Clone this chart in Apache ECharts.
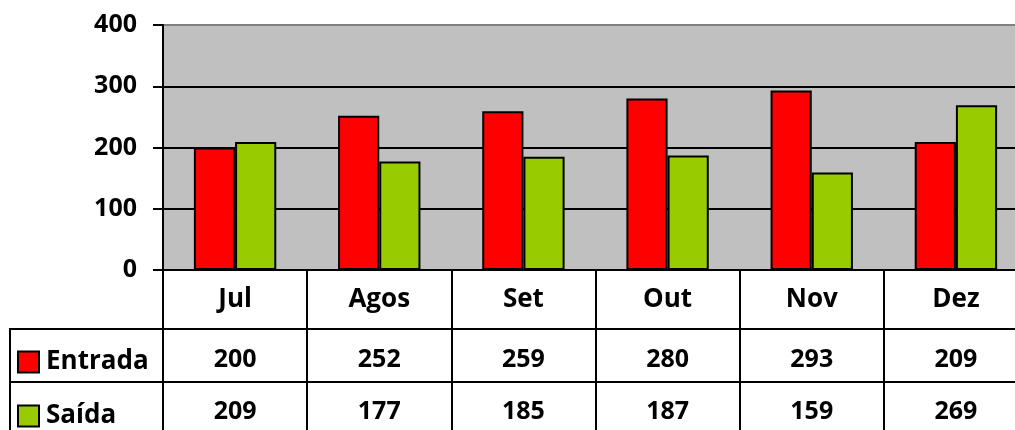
<!DOCTYPE html>
<html>
<head>
<meta charset="utf-8">
<script src="https://cdn.jsdelivr.net/npm/echarts@6/dist/echarts.min.js"></script>
<style>
html,body{margin:0;padding:0;background:#fff;overflow:hidden;width:1015px;height:430px;}
#c{width:1028px;height:432px;}
</style>
</head>
<body>
<div id="c"></div>
<script>
const categories = ['Jul', 'Agos', 'Set', 'Out', 'Nov', 'Dez'];
const entrada = [200, 252, 259, 280, 293, 209];
const saida = [209, 177, 185, 187, 159, 269];
const seriesNames = ['Entrada', 'Saída'];

const FONT = '"Open Sans", "DejaVu Sans", sans-serif';
const numTxt = { fontFamily: FONT, fontSize: 25, fontWeight: 'bold', color: '#000' };
const wordTxt = { fontFamily: FONT, fontSize: 26, fontWeight: 'bold', color: '#000' };

const chart = echarts.init(document.getElementById('c'), null, { renderer: 'canvas' });

function tableAxis(values, offset, margin) {
  return {
    type: 'category',
    data: categories,
    position: 'bottom',
    offset: offset,
    axisLine: { show: true, lineStyle: { color: '#000', width: 2 } },
    axisTick: { show: false },
    axisLabel: Object.assign({}, numTxt, {
      margin: margin,
      verticalAlign: 'middle',
      interval: 0,
      formatter: function (v, i) { return String(values[i]); }
    }),
    splitLine: { show: false }
  };
}

const option = {
  animation: false,
  backgroundColor: '#fff',
  grid: {
    left: 163, top: 25, right: 0, height: 245,
    show: true, backgroundColor: '#C0C0C0', borderWidth: 0,
    containLabel: false
  },
  xAxis: [
    {
      type: 'category',
      data: categories,
      position: 'bottom',
      axisLine: { show: true, lineStyle: { color: '#000', width: 2 } },
      axisTick: { show: true, length: 170, lineStyle: { color: '#000', width: 2 } },
      axisLabel: Object.assign({}, wordTxt, { margin: 30, verticalAlign: 'middle', interval: 0 }),
      splitLine: { show: false }
    },
    tableAxis(entrada, 59, 31),
    tableAxis(saida, 112, 30)
  ],
  yAxis: {
    type: 'value',
    min: 0, max: 400, interval: 100,
    axisLine: { show: true, lineStyle: { color: '#000', width: 2 } },
    axisTick: { show: true, length: 10, lineStyle: { color: '#000', width: 2 } },
    axisLabel: Object.assign({}, numTxt, { margin: 26 }),
    splitLine: { show: true, lineStyle: { color: ['#000', '#000', '#000', '#000', '#808080'], width: 2 } }
  },
  legend: [
    {
      data: [seriesNames[0]], left: 17, top: 349, padding: 0,
      itemWidth: 21, itemHeight: 21, icon: 'rect',
      itemStyle: { borderColor: '#000', borderWidth: 2 },
      textStyle: Object.assign({}, wordTxt, { padding: [0, 0, 0, 2] }),
      selectedMode: false
    },
    {
      data: [seriesNames[1]], left: 17, top: 403, padding: 0,
      itemWidth: 21, itemHeight: 21, icon: 'rect',
      itemStyle: { borderColor: '#000', borderWidth: 2 },
      textStyle: Object.assign({}, wordTxt, { padding: [0, 0, 0, 2] }),
      selectedMode: false
    }
  ],
  series: [
    {
      name: seriesNames[0], type: 'bar', data: entrada,
      barGap: '0%', barCategoryGap: '42.86%',
      itemStyle: { color: '#FF0000', borderColor: '#000', borderWidth: 2 }
    },
    {
      name: seriesNames[1], type: 'bar', data: saida,
      barGap: '0%', barCategoryGap: '42.86%',
      itemStyle: { color: '#99CC00', borderColor: '#000', borderWidth: 2 }
    }
  ],
  graphic: [
    { type: 'line', shape: { x1: 10, y1: 329, x2: 164, y2: 329 }, style: { stroke: '#000', lineWidth: 2 } },
    { type: 'line', shape: { x1: 10, y1: 382, x2: 164, y2: 382 }, style: { stroke: '#000', lineWidth: 2 } },
    { type: 'line', shape: { x1: 10, y1: 328, x2: 10, y2: 432 }, style: { stroke: '#000', lineWidth: 2 } }
  ]
};
chart.setOption(option);
</script>
</body>
</html>
